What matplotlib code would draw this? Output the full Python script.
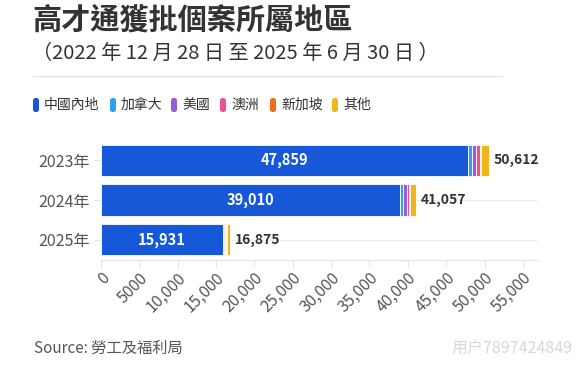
import matplotlib.pyplot as plt
from matplotlib.patches import FancyBboxPatch
from matplotlib.ticker import FuncFormatter
import numpy as np

plt.rcParams['font.family'] = ['Noto Sans CJK TC', 'DejaVu Sans']

# data
years = ['2023年', '2024年', '2025年']
regions = ['中國內地', '加拿大', '美國', '澳洲', '新加坡', '其他']
mainland = [47859, 39010, 15931]
canada = [520, 400, 150]
usa = [560, 420, 150]
australia = [430, 300, 100]
singapore = [190, 130, 40]
other = [1053, 797, 504]
totals = [50612, 41057, 16875]
xticks = [0, 5000, 10000, 15000, 20000, 25000, 30000, 35000, 40000, 45000, 50000, 55000]

colors = ['#1658d8', '#2f9ff0', '#9b5cd3', '#ea5393', '#f26a1b', '#f0b71c']

fig = plt.figure(figsize=(5.8, 3.65), dpi=100)

# overlay in pixel units for title block, legend and footer
over = fig.add_axes([0, 0, 1, 1])
over.set_xlim(0, 580)
over.set_ylim(365, 0)
over.axis('off')

ax = fig.add_axes([0.174, 0.288, 0.754, 0.328])

series = [mainland, canada, usa, australia, singapore, other]
y = np.arange(len(years))
left = np.zeros(len(years))
for vals, col in zip(series, colors):
    ax.barh(y, vals, left=left, height=0.78, color=col, edgecolor='white', linewidth=0.6, zorder=3)
    left += np.array(vals)

# labels on bars
for i in range(len(years)):
    ax.text(mainland[i] / 2, y[i], f'{mainland[i]:,}', color='white', fontsize=10.5,
            fontweight='bold', ha='center', va='center', zorder=4)
    ax.text(totals[i] + 600, y[i], f'{totals[i]:,}', color='#333333', fontsize=10,
            fontweight='bold', ha='left', va='center', zorder=4)

ax.set_xlim(0, 57000)
ax.set_ylim(2.5, -0.5)
ax.set_yticks(y)
ax.set_yticklabels(years)
ax.set_xticks(xticks)
ax.xaxis.set_major_formatter(FuncFormatter(lambda v, p: '0' if v == 0 else ('5000' if v == 5000 else f'{int(v):,}')))
for lab in ax.get_xticklabels():
    lab.set_rotation(45)
    lab.set_ha('right')
    lab.set_rotation_mode('anchor')

ax.tick_params(axis='x', colors='#e3e3e3', labelcolor='#555555', labelsize=11.5, length=5, pad=2)
ax.tick_params(axis='y', colors='#e3e3e3', labelcolor='#555555', labelsize=11.5, length=5, pad=3)
ax.grid(axis='y', color='#ececec', linewidth=0.8, zorder=0)
for s in ['top', 'right', 'left']:
    ax.spines[s].set_visible(False)
ax.spines['bottom'].set_color('#e3e3e3')

# title block
over.text(32, 20, '高才通獲批個案所屬地區', fontsize=21, fontweight='bold',
          color='#333333', ha='left', va='center')
over.text(32, 53, '（2022 年 12 月 28 日 至 2025 年 6 月 30 日 ）', fontsize=14.5,
          color='#333333', ha='left', va='center')
over.plot([33, 502], [76, 76], color='#e6e6e6', linewidth=1)

# legend with rounded pill markers
leg_x = [33, 110, 171, 220, 270, 332]
for lx, name, col in zip(leg_x, regions, colors):
    over.add_patch(FancyBboxPatch((lx + 1.5, 99.5), 3, 11,
                                  boxstyle='round,pad=1.5,rounding_size=2.5',
                                  facecolor=col, edgecolor='none'))
    over.text(lx + 11, 105, name, fontsize=10, color='#333333', ha='left', va='center')

over.text(34, 348, 'Source: 勞工及福利局', fontsize=11, color='#555555', ha='left', va='center')
over.text(451, 348, '用户7897424849', fontsize=11.5, color='#d8d8d8', ha='left', va='center')

fig.savefig('out.png', dpi=100, facecolor='white')
